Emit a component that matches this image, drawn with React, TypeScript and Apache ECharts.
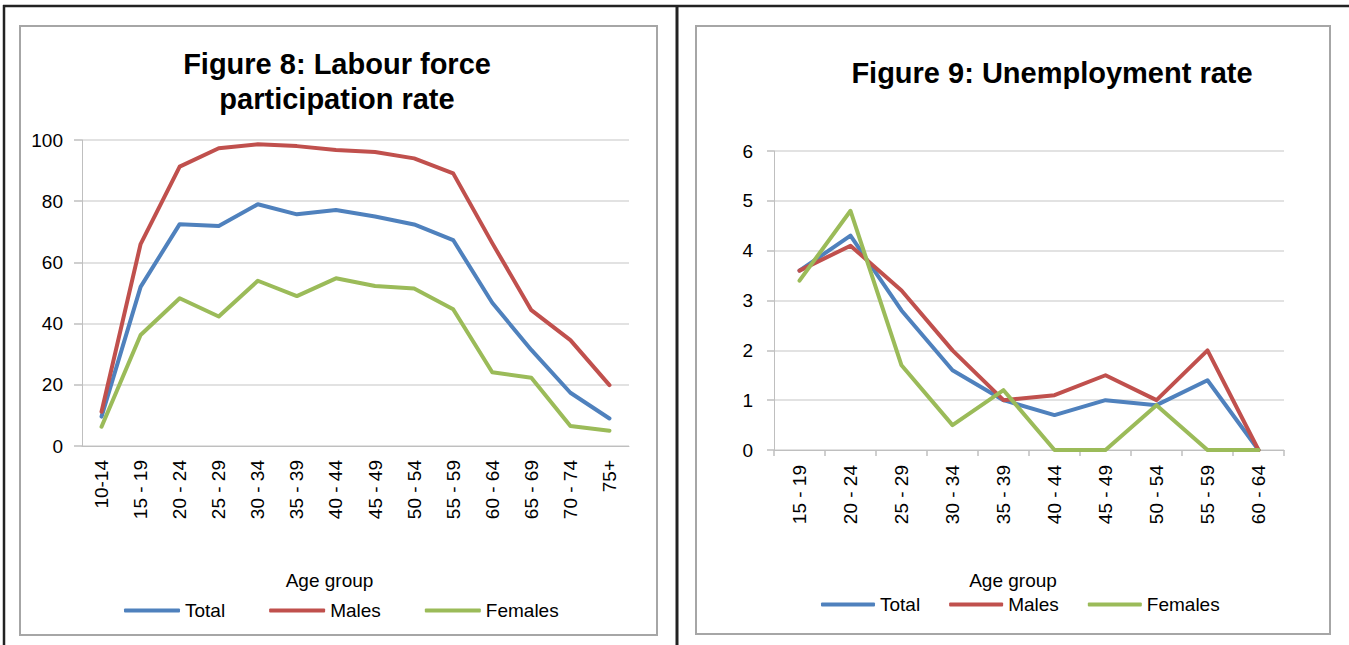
import React, { useEffect, useRef } from "react";
import * as echarts from "echarts";

// Figure 8: Labour force participation rate
const ageGroups8 = ["10-14", "15 - 19", "20 - 24", "25 - 29", "30 - 34", "35 - 39", "40 - 44", "45 - 49", "50 - 54", "55 - 59", "60 - 64", "65 - 69", "70 - 74", "75+"];
const total8 = [9.6, 52, 72.5, 71.9, 79, 75.7, 77.1, 75, 72.4, 67.3, 46.8, 31.4, 17.4, 9];
const males8 = [11.2, 66, 91.3, 97.3, 98.6, 98, 96.7, 96.1, 94, 89.1, 66.3, 44.4, 34.6, 19.9];
const females8 = [6.3, 36.3, 48.3, 42.3, 54, 49, 54.8, 52.3, 51.5, 44.7, 24.1, 22.3, 6.5, 5];
const yTicks8 = { min: 0, max: 100, interval: 20 };

// Figure 9: Unemployment rate
const ageGroups9 = ["15 - 19", "20 - 24", "25 - 29", "30 - 34", "35 - 39", "40 - 44", "45 - 49", "50 - 54", "55 - 59", "60 - 64"];
const total9 = [3.6, 4.3, 2.8, 1.6, 1.0, 0.7, 1.0, 0.9, 1.4, 0];
const males9 = [3.6, 4.1, 3.2, 2.0, 1.0, 1.1, 1.5, 1.0, 2.0, 0];
const females9 = [3.4, 4.8, 1.7, 0.5, 1.2, 0, 0, 0.9, 0, 0];
const yTicks9 = { min: 0, max: 6, interval: 1 };

const seriesNames = ["Total", "Males", "Females"];
const colors = ["#4F81BD", "#C0504D", "#9BBB59"];

const FONT = "'Liberation Sans', Arial, Helvetica, sans-serif";
const GRID_COLOR = "#D9D9D9";
const AXIS_COLOR = "#BFBFBF";

export default function App() {
  const ref = useRef<HTMLDivElement>(null);

  useEffect(() => {
    if (!ref.current) return;
    const chart = echarts.init(ref.current, undefined, { renderer: "svg" });

    const mkSeries = (name: string, data: number[], color: string, idx: number) => ({
      name,
      type: "line",
      xAxisIndex: idx,
      yAxisIndex: idx,
      data,
      symbol: "none",
      lineStyle: { color, width: 4, join: "round", cap: "round" },
      itemStyle: { color },
      z: 3,
    });

    const xAxisCommon = {
      type: "category",
      boundaryGap: true,
      name: "Age group",
      nameLocation: "middle",
      nameTextStyle: { fontSize: 19, color: "#000", fontFamily: FONT },
      axisLine: { show: true, lineStyle: { color: AXIS_COLOR, width: 1 } },
      axisLabel: { rotate: 90, fontSize: 19, color: "#000", fontFamily: FONT, interval: 0 },
      splitLine: { show: false },
    };

    const yAxisCommon = {
      type: "value",
      axisLine: { show: true, lineStyle: { color: AXIS_COLOR, width: 1 } },
      axisLabel: { fontSize: 19, color: "#000", fontFamily: FONT },
      splitLine: { show: true, lineStyle: { color: GRID_COLOR, width: 1.5 } },
    };

    const option: any = {
      animation: false,
      backgroundColor: "#fff",
      title: [
        {
          text: "Figure 8: Labour force\nparticipation rate",
          left: 332,
          top: 41,
          textAlign: "center",
          textStyle: { fontSize: 29, fontWeight: "bold", color: "#000", fontFamily: FONT, lineHeight: 35 },
        },
        {
          text: "Figure 9: Unemployment rate",
          left: 1047,
          top: 53,
          textAlign: "center",
          textStyle: { fontSize: 29, fontWeight: "bold", color: "#000", fontFamily: FONT },
        },
      ],
      legend: [
        {
          data: seriesNames,
          left: 119,
          top: 596,
          icon: "roundRect",
          itemWidth: 56,
          itemHeight: 4,
          itemGap: 44,
          textStyle: { fontSize: 19, color: "#000", fontFamily: FONT },
        },
        {
          data: seriesNames,
          left: 816,
          top: 590,
          icon: "roundRect",
          itemWidth: 54,
          itemHeight: 4,
          itemGap: 29,
          textStyle: { fontSize: 19, color: "#000", fontFamily: FONT },
        },
      ],
      grid: [
        { left: 82, top: 140, width: 547, height: 306, containLabel: false },
        { left: 774, top: 151, width: 510, height: 299, containLabel: false },
      ],
      xAxis: [
        {
          ...xAxisCommon,
          gridIndex: 0,
          data: ageGroups8,
          nameGap: 125,
          nameTextStyle: { ...xAxisCommon.nameTextStyle, padding: [0, 52, 0, 0] },
          axisTick: { show: false },
          axisLabel: { ...xAxisCommon.axisLabel, margin: 14 },
        },
        {
          ...xAxisCommon,
          gridIndex: 1,
          data: ageGroups9,
          nameGap: 121,
          nameTextStyle: { ...xAxisCommon.nameTextStyle, padding: [0, 32, 0, 0] },
          axisTick: { show: true, length: 6, lineStyle: { color: AXIS_COLOR, width: 1.5 } },
          axisLabel: { ...xAxisCommon.axisLabel, margin: 15 },
        },
      ],
      yAxis: [
        {
          ...yAxisCommon,
          gridIndex: 0,
          ...yTicks8,
          axisLabel: { ...yAxisCommon.axisLabel, margin: 19 },
          axisTick: { show: true, length: 8, lineStyle: { color: AXIS_COLOR, width: 1.5 } },
        },
        {
          ...yAxisCommon,
          gridIndex: 1,
          ...yTicks9,
          axisLabel: { ...yAxisCommon.axisLabel, margin: 21 },
          axisTick: { show: true, length: 7, lineStyle: { color: AXIS_COLOR, width: 1.5 } },
        },
      ],
      series: [
        mkSeries(seriesNames[0], total8, colors[0], 0),
        mkSeries(seriesNames[1], males8, colors[1], 0),
        mkSeries(seriesNames[2], females8, colors[2], 0),
        mkSeries(seriesNames[0], total9, colors[0], 1),
        mkSeries(seriesNames[1], males9, colors[1], 1),
        mkSeries(seriesNames[2], females9, colors[2], 1),
      ],
      graphic: [
        // outer table borders
        { type: "line", shape: { x1: 3, y1: 6, x2: 1349, y2: 6 }, style: { stroke: "#222", lineWidth: 2.5 }, silent: true },
        { type: "line", shape: { x1: 4, y1: 5, x2: 4, y2: 645 }, style: { stroke: "#222", lineWidth: 2.5 }, silent: true },
        { type: "line", shape: { x1: 677, y1: 5, x2: 677, y2: 645 }, style: { stroke: "#222", lineWidth: 3 }, silent: true },
        // chart frames
        { type: "rect", shape: { x: 20, y: 26, width: 637, height: 609 }, style: { fill: "none", stroke: "#A6A6A6", lineWidth: 2 }, silent: true },
        { type: "rect", shape: { x: 696, y: 26, width: 634, height: 608 }, style: { fill: "none", stroke: "#A6A6A6", lineWidth: 2 }, silent: true },
      ],
    };

    chart.setOption(option);
    return () => chart.dispose();
  }, []);

  return (
    <div
      ref={ref}
      style={{ position: "fixed", left: 0, top: 0, width: 1349, height: 645, background: "#fff" }}
    />
  );
}
